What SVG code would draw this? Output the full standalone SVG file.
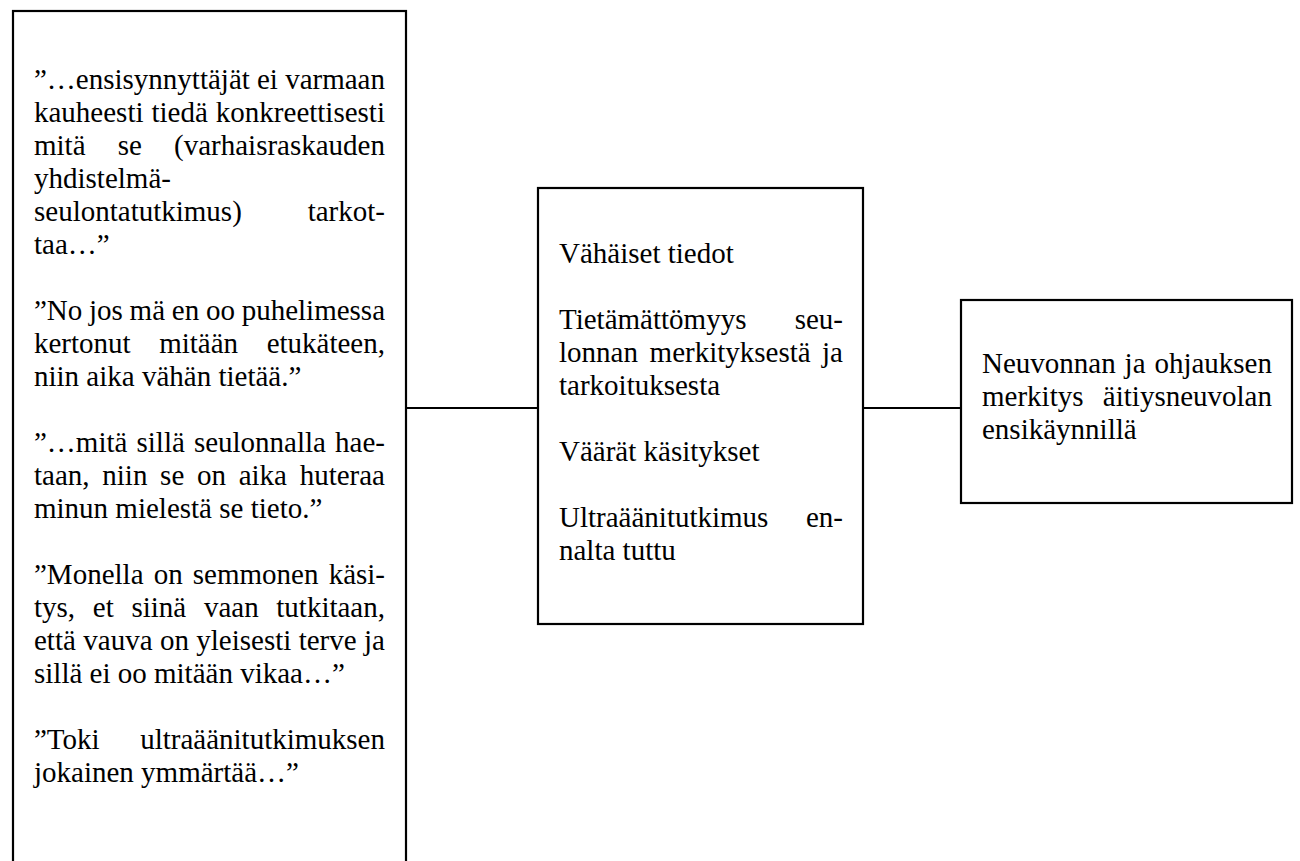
<svg xmlns="http://www.w3.org/2000/svg" width="1300" height="861" viewBox="0 0 1300 861">
  <style>
    .box { fill: #ffffff; stroke: #000000; stroke-width: 2.2; }
    .link { stroke: #000000; stroke-width: 2.2; fill: none; }
    text { font-family: "Liberation Serif", "Times New Roman", serif; font-size: 29px; fill: #000000; }
    .end { text-anchor: end; }
  </style>
  <rect x="0" y="0" width="1300" height="861" fill="#ffffff"/>

  <!-- connectors between the three boxes -->
  <g id="connectors">
    <line class="link" x1="406" y1="408" x2="538" y2="408"/>
    <line class="link" x1="863" y1="408" x2="961" y2="408"/>
  </g>

  <!-- quotations (justified text, words placed individually) -->
  <g id="quotes">
    <rect class="box" x="13" y="11" width="393" height="870"/>
    <text y="89"><tspan x="34">”…ensisynnyttäjät</tspan><tspan x="257">ei</tspan><tspan x="385" class="end">varmaan</tspan></text>
    <text y="122"><tspan x="34">kauheesti</tspan><tspan x="151.5">tiedä</tspan><tspan x="385" class="end">konkreettisesti</tspan></text>
    <text y="155"><tspan x="34">mitä</tspan><tspan x="117.7">se</tspan><tspan x="385" class="end">(varhaisraskauden</tspan></text>
    <text y="188" x="34">yhdistelmä-</text>
    <text y="221"><tspan x="34">seulontatutkimus)</tspan><tspan x="385" class="end">tarkot-</tspan></text>
    <text y="254" x="34">taa…”</text>

    <text y="320"><tspan x="34">”No</tspan><tspan x="89">jos</tspan><tspan x="129.6">mä</tspan><tspan x="171.8">en</tspan><tspan x="205.9">oo</tspan><tspan x="385" class="end">puhelimessa</tspan></text>
    <text y="353"><tspan x="34">kertonut</tspan><tspan x="159.2">mitään</tspan><tspan x="385" class="end">etukäteen,</tspan></text>
    <text y="386" x="34">niin aika vähän tietää.”</text>

    <text y="452"><tspan x="34">”…mitä</tspan><tspan x="136.5">sillä</tspan><tspan x="193.9">seulonnalla</tspan><tspan x="385" class="end">hae-</tspan></text>
    <text y="485"><tspan x="34">taan,</tspan><tspan x="102.3">niin</tspan><tspan x="160.1">se</tspan><tspan x="197">on</tspan><tspan x="238.7">aika</tspan><tspan x="385" class="end">huteraa</tspan></text>
    <text y="518" x="34">minun mielestä se tieto.”</text>

    <text y="584"><tspan x="34">”Monella</tspan><tspan x="153.7">on</tspan><tspan x="192.8">semmonen</tspan><tspan x="385" class="end">käsi-</tspan></text>
    <text y="617"><tspan x="34">tys,</tspan><tspan x="92.8">et</tspan><tspan x="131.4">siinä</tspan><tspan x="203.9">vaan</tspan><tspan x="385" class="end">tutkitaan,</tspan></text>
    <text y="650"><tspan x="34">että</tspan><tspan x="83.3">vauva</tspan><tspan x="159.9">on</tspan><tspan x="196.3">yleisesti</tspan><tspan x="298.7">terve</tspan><tspan x="385" class="end">ja</tspan></text>
    <text y="683" x="34">sillä ei oo mitään vikaa…”</text>

    <text y="749"><tspan x="34">”Toki</tspan><tspan x="385" class="end">ultraäänitutkimuksen</tspan></text>
    <text y="782" x="34">jokainen ymmärtää…”</text>
  </g>

  <!-- themes -->
  <g id="themes">
    <rect class="box" x="538" y="188" width="325" height="436"/>
    <text x="559" y="263">Vähäiset tiedot</text>
    <text y="329"><tspan x="559">Tietämättömyys</tspan><tspan x="843" class="end">seu-</tspan></text>
    <text y="362"><tspan x="559">lonnan</tspan><tspan x="649.6">merkityksestä</tspan><tspan x="843" class="end">ja</tspan></text>
    <text x="559" y="395">tarkoituksesta</text>
    <text x="559" y="461">Väärät käsitykset</text>
    <text y="527"><tspan x="559">Ultraäänitutkimus</tspan><tspan x="843" class="end">en-</tspan></text>
    <text x="559" y="560">nalta tuttu</text>
  </g>

  <!-- main category -->
  <g id="category">
    <rect class="box" x="961" y="300" width="331" height="203"/>
    <text y="373"><tspan x="982">Neuvonnan</tspan><tspan x="1124.6">ja</tspan><tspan x="1272" class="end">ohjauksen</tspan></text>
    <text y="406"><tspan x="982">merkitys</tspan><tspan x="1272" class="end">äitiysneuvolan</tspan></text>
    <text x="982" y="439">ensikäynnillä</text>
  </g>
</svg>
